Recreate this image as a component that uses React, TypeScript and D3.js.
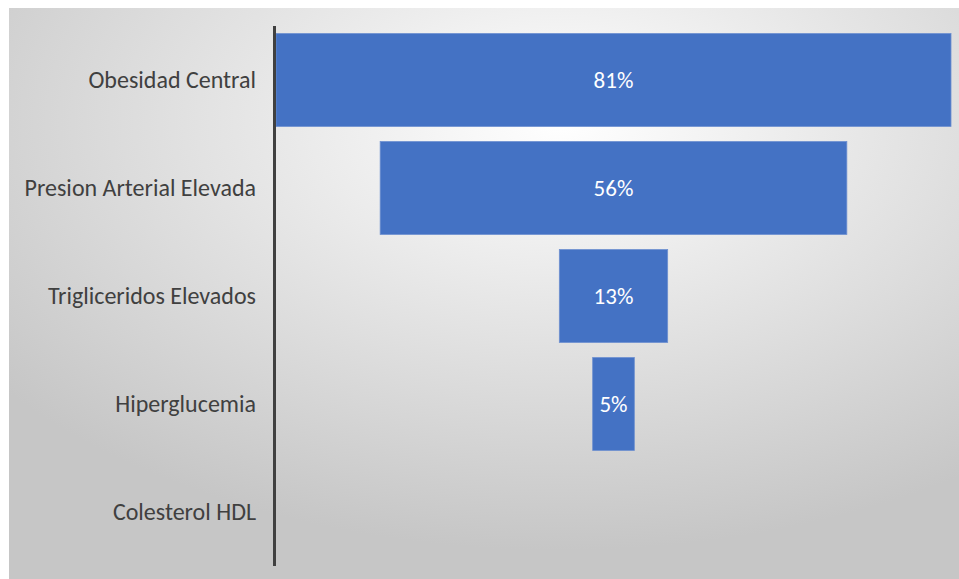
import React, { useEffect, useRef } from 'react';
import * as d3 from 'd3';

const categories = [
  'Obesidad Central',
  'Presion Arterial Elevada',
  'Trigliceridos Elevados',
  'Hiperglucemia',
  'Colesterol HDL',
];
const values = [81, 56, 13, 5, 0];

export default function App() {
  const ref = useRef<SVGSVGElement | null>(null);

  useEffect(() => {
    if (!ref.current) return;
    const svg = d3.select(ref.current);
    svg.selectAll('*').remove();

    const width = 959;
    const height = 579;
    const chart = { left: 9, top: 8, right: 959, bottom: 579 };
    const plot = { left: 276, right: 951, top: 26, bottom: 566 };
    const font = "Carlito, Calibri, 'Open Sans', sans-serif";

    const defs = svg.append('defs');
    const grad = defs
      .append('radialGradient')
      .attr('id', 'bg')
      .attr('cx', '58%')
      .attr('cy', '20%')
      .attr('r', '75%');
    grad.append('stop').attr('offset', '0%').attr('stop-color', '#ffffff');
    grad.append('stop').attr('offset', '100%').attr('stop-color', '#c6c6c6');

    svg
      .append('rect')
      .attr('width', width)
      .attr('height', height)
      .attr('fill', '#ffffff');

    svg
      .append('rect')
      .attr('x', chart.left)
      .attr('y', chart.top)
      .attr('width', chart.right - chart.left)
      .attr('height', chart.bottom - chart.top)
      .attr('fill', 'url(#bg)');

    const y = d3
      .scaleBand<string>()
      .domain(categories)
      .range([plot.top, plot.bottom])
      .paddingInner(0.14)
      .paddingOuter(0.07);

    const maxV = d3.max(values) || 1;
    const w = d3.scaleLinear().domain([0, maxV]).range([0, plot.right - plot.left]);
    const cx = (plot.left + plot.right) / 2;

    const rows = categories.map((c, i) => ({ c, v: values[i] }));

    svg
      .selectAll('.bar')
      .data(rows.filter((d) => d.v > 0))
      .join('rect')
      .attr('class', 'bar')
      .attr('x', (d) => cx - w(d.v) / 2)
      .attr('y', (d) => y(d.c)!)
      .attr('width', (d) => w(d.v))
      .attr('height', y.bandwidth())
      .attr('fill', '#4472C4')
      .attr('stroke', '#6d8fd0')
      .attr('stroke-width', 0.8);

    svg
      .selectAll('.val')
      .data(rows.filter((d) => d.v > 0))
      .join('text')
      .attr('class', 'val')
      .attr('x', cx)
      .attr('y', (d) => y(d.c)! + y.bandwidth() / 2)
      .attr('dy', '0.35em')
      .attr('text-anchor', 'middle')
      .attr('fill', '#ffffff')
      .style('font-family', font)
      .style('font-size', '23px')
      .text((d) => `${d.v}%`);

    svg
      .selectAll('.cat')
      .data(rows)
      .join('text')
      .attr('class', 'cat')
      .attr('x', 256)
      .attr('y', (d) => y(d.c)! + y.bandwidth() / 2)
      .attr('dy', '0.35em')
      .attr('text-anchor', 'end')
      .attr('fill', '#404040')
      .style('font-family', font)
      .style('font-size', '24px')
      .text((d) => d.c);

    svg
      .append('line')
      .attr('x1', 274.5)
      .attr('x2', 274.5)
      .attr('y1', plot.top)
      .attr('y2', plot.bottom)
      .attr('stroke', '#404040')
      .attr('stroke-width', 3);
  }, []);

  return (
    <svg
      ref={ref}
      width={959}
      height={579}
      style={{ position: 'absolute', left: 0, top: 0, display: 'block' }}
    />
  );
}
